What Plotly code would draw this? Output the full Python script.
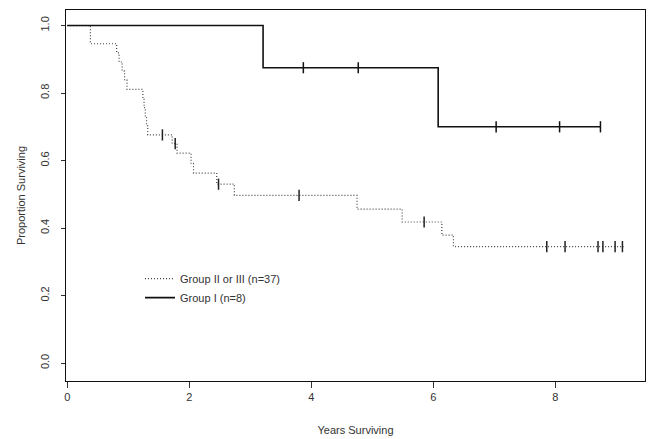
import plotly.graph_objects as go

# Group I (n=8): Kaplan-Meier step points
g1_time = [0, 3.21, 6.08, 8.74]
g1_surv = [1.0, 0.875, 0.70, 0.70]
g1_cens_time = [3.87, 4.77, 7.03, 8.07, 8.74]
g1_cens_surv = [0.875, 0.875, 0.70, 0.70, 0.70]

# Group II or III (n=37)
g2_time = [0, 0.38, 0.81, 0.85, 0.90, 0.94, 0.98, 1.24, 1.26, 1.28, 1.30, 1.32,
           1.72, 1.80, 2.03, 2.07, 2.45, 2.74, 4.75, 5.49, 6.14, 6.33, 9.12]
g2_surv = [1.0, 0.946, 0.919, 0.892, 0.865, 0.838, 0.811, 0.784, 0.757, 0.730, 0.703, 0.676,
           0.650, 0.622, 0.592, 0.563, 0.530, 0.497, 0.456, 0.418, 0.379, 0.345, 0.345]
g2_cens_time = [1.56, 1.77, 2.48, 3.80, 5.85, 7.86, 8.16, 8.70, 8.78, 8.98, 9.10]
g2_cens_surv = [0.676, 0.650, 0.530, 0.497, 0.418, 0.345, 0.345, 0.345, 0.345, 0.345, 0.345]

x_ticks = [0, 2, 4, 6, 8]
y_ticks = [0.0, 0.2, 0.4, 0.6, 0.8, 1.0]

font_family = "Liberation Sans, Arial, sans-serif"

fig = go.Figure()
fig.add_trace(go.Scatter(
    x=g2_time, y=g2_surv, mode="lines", line_shape="hv",
    line=dict(color="#444444", width=1.2, dash="1px,2px"),
    name="Group II or III (n=37)"))
fig.add_trace(go.Scatter(
    x=g1_time, y=g1_surv, mode="lines", line_shape="hv",
    line=dict(color="#111111", width=1.6),
    name="Group I (n=8)"))
fig.add_trace(go.Scatter(
    x=g2_cens_time, y=g2_cens_surv, mode="markers", showlegend=False,
    marker=dict(symbol="line-ns", size=8, line=dict(color="#222222", width=1.5))))
fig.add_trace(go.Scatter(
    x=g1_cens_time, y=g1_cens_surv, mode="markers", showlegend=False,
    marker=dict(symbol="line-ns", size=8, line=dict(color="#111111", width=1.5))))

fig.update_layout(
    width=648, height=439,
    margin=dict(l=66, r=3, t=10, b=58),
    paper_bgcolor="white", plot_bgcolor="white",
    font=dict(family=font_family, size=11, color="#333333"),
    showlegend=True,
    legend=dict(x=(140 - 66) / 579, y=0.315, xanchor="left", yanchor="top",
                bgcolor="rgba(0,0,0,0)", font=dict(size=11, color="#333333"),
                tracegroupgap=0, itemwidth=30),
    xaxis=dict(range=[-0.02, 9.47], tickvals=x_ticks, ticktext=[str(v) for v in x_ticks],
               showgrid=False, zeroline=False, showline=True, linecolor="#111111",
               linewidth=1.2, mirror=True, ticks="outside", ticklen=6, tickcolor="#333333",
               title=dict(text="Years Surviving", font=dict(size=11), standoff=24)),
    yaxis=dict(range=[-0.053, 1.046], tickvals=y_ticks, ticktext=[f"{v:.1f}" for v in y_ticks],
               tickangle=-90, showgrid=False, zeroline=False, showline=True,
               linecolor="#111111", linewidth=1.2, mirror=True, ticks="outside",
               ticklen=4, tickcolor="#333333", ticklabelstandoff=8,
               title=dict(text="Proportion Surviving", font=dict(size=11), standoff=10)),
)

fig.write_html("out.html")
